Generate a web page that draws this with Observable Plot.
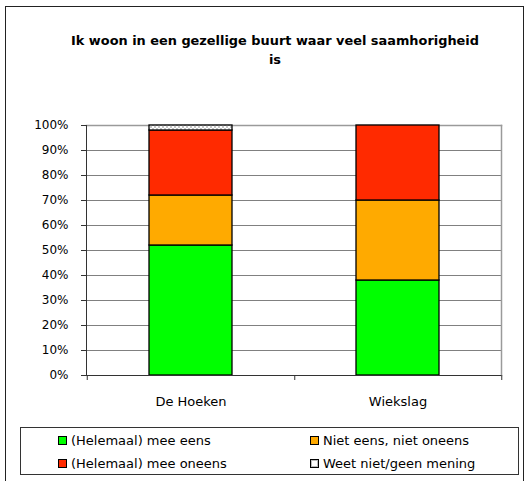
<!DOCTYPE html>
<html><head><meta charset="utf-8">
<script src="https://cdn.jsdelivr.net/npm/d3@7"></script>
<script src="https://cdn.jsdelivr.net/npm/@observablehq/plot@0.6"></script>
<style>
body{margin:0;background:#fff;font-family:"DejaVu Sans",sans-serif;}
#wrap{position:relative;width:528px;height:481px;overflow:hidden;}
#border{position:absolute;left:5px;top:6px;width:519px;height:476px;border:1px solid #222;box-sizing:border-box;}
#title{position:absolute;left:0;width:550px;top:31px;text-align:center;font-weight:bold;font-size:12.9px;line-height:19px;color:#000;}
#chart{position:absolute;left:0;top:0;}
#legend{position:absolute;left:20px;top:427px;width:499px;height:48px;border:1px solid #333;box-sizing:border-box;font-size:13px;color:#000;}
.item{position:absolute;display:flex;align-items:center;white-space:nowrap;}
.sw{width:7px;height:7px;border:1px solid #000;margin-right:4px;}
</style></head>
<body>
<div id="wrap">
<div id="border"></div>
<div id="chart"></div>
<div id="title">Ik woon in een gezellige buurt waar veel saamhorigheid<br>is</div>
<div id="legend"></div>
</div>
<script>
const categories = ["De Hoeken", "Wiekslag"];
const responses = ["(Helemaal) mee eens", "Niet eens, niet oneens", "(Helemaal) mee oneens", "Weet niet/geen mening"];
const meeEens = [0.52, 0.38];
const nietEens = [0.20, 0.32];
const meeOneens = [0.26, 0.30];
const weetNiet = [0.02, 0.00];
const yTicks = [0,0.1,0.2,0.3,0.4,0.5,0.6,0.7,0.8,0.9,1.0];
const colors = ["#00ff00", "#ffaa00", "#ff2a00", "url(#weetpat)"];

const series = [meeEens, nietEens, meeOneens, weetNiet];
const data = [];
categories.forEach((c, i) => responses.forEach((r, j) => data.push({cat: c, resp: r, value: series[j][i]})));

const W = 528, H = 420, ML = 86, MR = 27, MT = 125, MB = 45;
const step = (W - ML - MR) / categories.length;
const bounds = [
  {cat: categories[0], dx: -step/2},
  ...categories.map(c => ({cat: c, dx: step/2}))
];

const plot = Plot.plot({
  width: W, height: H,
  marginLeft: ML, marginRight: MR, marginTop: MT, marginBottom: MB,
  style: {fontFamily: "DejaVu Sans, sans-serif", background: "transparent"},
  x: {type: "band", domain: categories, paddingInner: 0.6, paddingOuter: 0.3, axis: null, label: null},
  y: {domain: [0, 1], axis: null, label: null},
  color: {domain: responses, range: colors},
  marks: [
    Plot.gridY(yTicks, {stroke: "#808080", strokeOpacity: 1, strokeWidth: 1}),
    Plot.frame({anchor: "top", stroke: "#9a9a9a", strokeWidth: 1.5}),
    Plot.frame({anchor: "right", stroke: "#9a9a9a", strokeWidth: 1.5}),
    Plot.barY(data, Plot.stackY({x: "cat", y: "value", fill: "resp", order: responses, stroke: "#000", strokeWidth: 1.3})),
    Plot.ruleY([0], {stroke: "#333", strokeWidth: 1}),
    Plot.frame({anchor: "left", stroke: "#333", strokeWidth: 1}),
    ...bounds.map(b => Plot.ruleX([b.cat], {x: d => d, dx: b.dx, y1: 0, y2: -0.02, stroke: "#333"})),
    Plot.axisY(yTicks, {tickFormat: d3.format(".0%"), tickSize: 5, tickPadding: 13, fontSize: 12, stroke: "#333", fill: "#000", label: null}),
    Plot.axisX({tickSize: 0, tickPadding: 21, fontSize: 13, fill: "#000", label: null})
  ]
});

// pattern for "Weet niet/geen mening"
const svg = d3.select(plot);
const defs = svg.insert("defs", ":first-child");
const pat = defs.append("pattern").attr("id", "weetpat").attr("patternUnits", "userSpaceOnUse").attr("width", 4).attr("height", 4);
pat.append("rect").attr("width", 4).attr("height", 4).attr("fill", "#fff");
pat.append("rect").attr("width", 2).attr("height", 2).attr("fill", "#c8c8c8");
pat.append("rect").attr("x", 2).attr("y", 2).attr("width", 2).attr("height", 2).attr("fill", "#c8c8c8");
document.getElementById("chart").appendChild(plot);

// legend
const leg = document.getElementById("legend");
const pos = [[37, 5], [289, 5], [37, 28], [289, 28]];
responses.forEach((r, j) => {
  const it = document.createElement("div");
  it.className = "item";
  it.style.left = pos[j][0] + "px";
  it.style.top = pos[j][1] + "px";
  const sw = document.createElement("div");
  sw.className = "sw";
  sw.style.background = j === 3 ? "#fff" : colors[j];
  if (j === 3) sw.style.boxShadow = "inset 0 0 0 1px #bbb";
  const tx = document.createElement("span");
  tx.textContent = r;
  it.appendChild(sw); it.appendChild(tx);
  leg.appendChild(it);
});
</script>
</body></html>
